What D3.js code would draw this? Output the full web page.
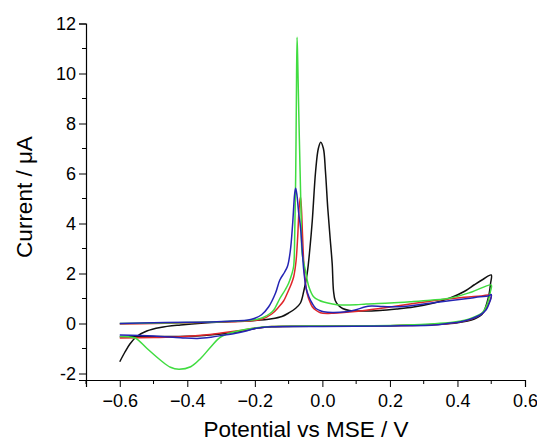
<!DOCTYPE html>
<html>
<head>
<meta charset="utf-8">
<script src="https://cdn.jsdelivr.net/npm/d3@7"></script>
<style>
  html, body { margin: 0; padding: 0; background: #fff; }
  svg text { font-family: "Liberation Sans", Arial, sans-serif; fill: #000; }
</style>
</head>
<body>
<svg id="chart" width="537" height="441"></svg>
<script>
// ---- Data (Potential vs MSE / V, Current / µA), each curve in scan order ----
const blackCV = [
  [-0.6,-1.53],[-0.585,-1.15],[-0.57,-0.82],[-0.55,-0.52],[-0.52,-0.3],[-0.48,-0.16],[-0.42,-0.06],
  [-0.35,0.02],[-0.28,0.07],[-0.2,0.12],[-0.15,0.19],[-0.12,0.28],[-0.1,0.42],[-0.08,0.6],
  [-0.065,0.82],[-0.055,1.3],[-0.045,2.0],[-0.037,3.0],[-0.03,4.1],[-0.02,6.1],[-0.012,7.0],
  [-0.005,7.25],[0.003,7.0],[0.009,6.1],[0.016,4.6],[0.023,3.4],[0.029,2.4],[0.033,1.3],
  [0.038,0.92],[0.048,0.72],[0.06,0.6],[0.08,0.52],[0.12,0.5],[0.17,0.52],[0.22,0.58],
  [0.27,0.66],[0.33,0.82],[0.38,1.03],[0.42,1.28],[0.45,1.55],[0.475,1.76],[0.5,1.94],
  [0.498,1.6],[0.494,1.2],[0.487,0.81],[0.477,0.45],[0.467,0.3],[0.45,0.18],[0.43,0.1],
  [0.4,0.03],[0.38,0.0],[0.33,-0.04],[0.29,-0.06],[0.2,-0.09],[0.1,-0.1],[0.0,-0.11],
  [-0.1,-0.12],[-0.15,-0.13],[-0.19,-0.18],[-0.22,-0.26],[-0.26,-0.35],[-0.3,-0.42],
  [-0.35,-0.48],[-0.4,-0.51],[-0.5,-0.52],[-0.6,-0.53]
];
const redCV = [
  [-0.6,-0.02],[-0.5,0.0],[-0.4,0.03],[-0.3,0.06],[-0.22,0.1],[-0.18,0.17],[-0.15,0.38],
  [-0.13,0.65],[-0.115,0.9],[-0.104,1.21],[-0.093,1.55],[-0.085,1.87],[-0.078,2.5],
  [-0.073,3.5],[-0.069,4.6],[-0.065,5.07],[-0.062,4.6],[-0.059,3.6],[-0.055,2.4],
  [-0.05,1.6],[-0.045,1.2],[-0.038,0.9],[-0.03,0.67],[-0.018,0.52],[-0.006,0.43],
  [0.015,0.4],[0.033,0.41],[0.08,0.46],[0.13,0.53],[0.18,0.62],[0.23,0.72],[0.29,0.84],
  [0.35,0.95],[0.42,1.05],[0.47,1.1],[0.5,1.14],
  [0.497,0.95],[0.49,0.72],[0.48,0.5],[0.467,0.34],[0.44,0.17],[0.41,0.07],[0.33,-0.05],
  [0.2,-0.09],[0.0,-0.11],[-0.15,-0.12],[-0.2,-0.19],[-0.25,-0.29],[-0.3,-0.38],
  [-0.35,-0.46],[-0.42,-0.53],[-0.5,-0.56],[-0.6,-0.58]
];
const greenCV = [
  [-0.6,0.0],[-0.5,0.02],[-0.4,0.04],[-0.3,0.07],[-0.22,0.12],[-0.19,0.18],[-0.174,0.25],
  [-0.155,0.4],[-0.144,0.54],[-0.126,1.0],[-0.11,1.35],[-0.1,1.61],[-0.09,2.0],[-0.085,2.3],
  [-0.082,3.5],[-0.079,6.0],[-0.077,9.0],[-0.075,11.45],[-0.073,10.5],[-0.07,8.5],
  [-0.066,6.1],[-0.063,4.3],[-0.06,2.8],[-0.05,2.1],[-0.04,1.47],[-0.026,1.07],
  [-0.01,0.93],[0.004,0.86],[0.03,0.78],[0.053,0.74],[0.1,0.75],[0.13,0.78],[0.2,0.82],
  [0.26,0.87],[0.32,0.93],[0.38,1.02],[0.44,1.25],[0.5,1.54],
  [0.498,1.3],[0.493,1.0],[0.487,0.74],[0.475,0.45],[0.457,0.3],[0.435,0.18],[0.41,0.1],
  [0.38,0.04],[0.33,-0.01],[0.25,-0.06],[0.15,-0.09],[0.0,-0.1],[-0.15,-0.12],[-0.2,-0.18],
  [-0.25,-0.3],[-0.3,-0.53],[-0.33,-0.93],[-0.36,-1.39],[-0.39,-1.73],[-0.425,-1.83],
  [-0.45,-1.75],[-0.48,-1.46],[-0.52,-0.99],[-0.553,-0.59],[-0.575,-0.53],[-0.6,-0.52]
];
const blueCV = [
  [-0.6,0.0],[-0.5,0.03],[-0.4,0.05],[-0.33,0.06],[-0.26,0.1],[-0.22,0.14],[-0.2,0.21],
  [-0.18,0.35],[-0.159,0.67],[-0.139,1.21],[-0.126,1.74],[-0.112,2.05],[-0.103,2.3],
  [-0.095,2.9],[-0.088,4.0],[-0.082,5.2],[-0.079,5.41],[-0.075,5.1],[-0.07,4.4],
  [-0.065,3.87],[-0.06,3.0],[-0.055,2.1],[-0.048,1.4],[-0.04,1.07],[-0.03,0.8],
  [-0.02,0.61],[-0.008,0.52],[0.004,0.47],[0.03,0.44],[0.07,0.47],[0.1,0.55],[0.125,0.66],
  [0.145,0.7],[0.18,0.68],[0.23,0.67],[0.3,0.78],[0.37,0.9],[0.43,1.0],[0.467,1.07],
  [0.49,1.1],[0.5,1.16],
  [0.499,1.0],[0.494,0.81],[0.485,0.55],[0.467,0.34],[0.44,0.18],[0.41,0.07],[0.37,0.0],
  [0.33,-0.06],[0.2,-0.1],[0.0,-0.12],[-0.15,-0.13],[-0.2,-0.2],[-0.223,-0.29],
  [-0.26,-0.4],[-0.29,-0.46],[-0.33,-0.55],[-0.37,-0.6],[-0.42,-0.57],[-0.5,-0.5],[-0.6,-0.46]
];

const xTicks = [-0.6, -0.4, -0.2, 0.0, 0.2, 0.4, 0.6];
const xMinorTicks = [-0.7, -0.5, -0.3, -0.1, 0.1, 0.3, 0.5];
const yTicks = [-2, 0, 2, 4, 6, 8, 10, 12];
const yMinorTicks = [-1, 1, 3, 5, 7, 9, 11];
const xDomain = [-0.7, 0.6];
const yDomain = [-2.26, 12];
const xTitle = "Potential vs MSE / V";
const yTitle = "Current / \u03BCA";

const series = [
  { data: blackCV, color: "#111111" },
  { data: redCV,   color: "#e0262a" },
  { data: greenCV, color: "#40dc40" },
  { data: blueCV,  color: "#2424b4" }
];

// ---- Layout ----
const svg = d3.select("#chart");
const x = d3.scaleLinear().domain(xDomain).range([86, 525]);
const y = d3.scaleLinear().domain(yDomain).range([380, 23.5]);

// curves
const line = d3.line()
  .x(d => x(d[0]))
  .y(d => y(d[1]))
  .curve(d3.curveCatmullRom.alpha(0.5));

svg.append("g").selectAll("path")
  .data(series)
  .join("path")
  .attr("d", s => line(s.data))
  .attr("fill", "none")
  .attr("stroke", s => s.color)
  .attr("stroke-width", 1.5)
  .attr("stroke-linejoin", "round");

// axes
const xAxis = d3.axisBottom(x)
  .tickValues(xTicks)
  .tickFormat(d3.format(".1f"))
  .tickSizeOuter(0)
  .tickSize(7)
  .tickPadding(7);
const gx = svg.append("g").attr("transform", "translate(0,380)").call(xAxis);
gx.selectAll("text").style("font-size", "18px");
gx.append("g").selectAll("line").data(xMinorTicks).join("line")
  .attr("x1", d => x(d)).attr("x2", d => x(d))
  .attr("y1", 0).attr("y2", 4)
  .attr("stroke", "#000");

const yAxis = d3.axisLeft(y)
  .tickValues(yTicks)
  .tickFormat(d => d < 0 ? "-" + Math.abs(d) : String(d))
  .tickSizeOuter(0)
  .tickSize(7)
  .tickPadding(3);
const gy = svg.append("g").attr("transform", "translate(86,0)").call(yAxis);
gy.selectAll("text").style("font-size", "18px");
gy.append("g").selectAll("line").data(yMinorTicks).join("line")
  .attr("y1", d => y(d)).attr("y2", d => y(d))
  .attr("x1", 0).attr("x2", -4)
  .attr("stroke", "#000");

svg.selectAll(".domain").attr("stroke", "#000").attr("stroke-width", 1.2);
svg.selectAll(".tick line").attr("stroke", "#000");

// titles
svg.append("text")
  .attr("x", 306).attr("y", 437)
  .attr("text-anchor", "middle")
  .style("font-size", "22.5px")
  .text(xTitle);

svg.append("text")
  .attr("transform", "translate(32,197) rotate(-90)")
  .attr("text-anchor", "middle")
  .style("font-size", "22.5px")
  .text(yTitle);
</script>
</body>
</html>
